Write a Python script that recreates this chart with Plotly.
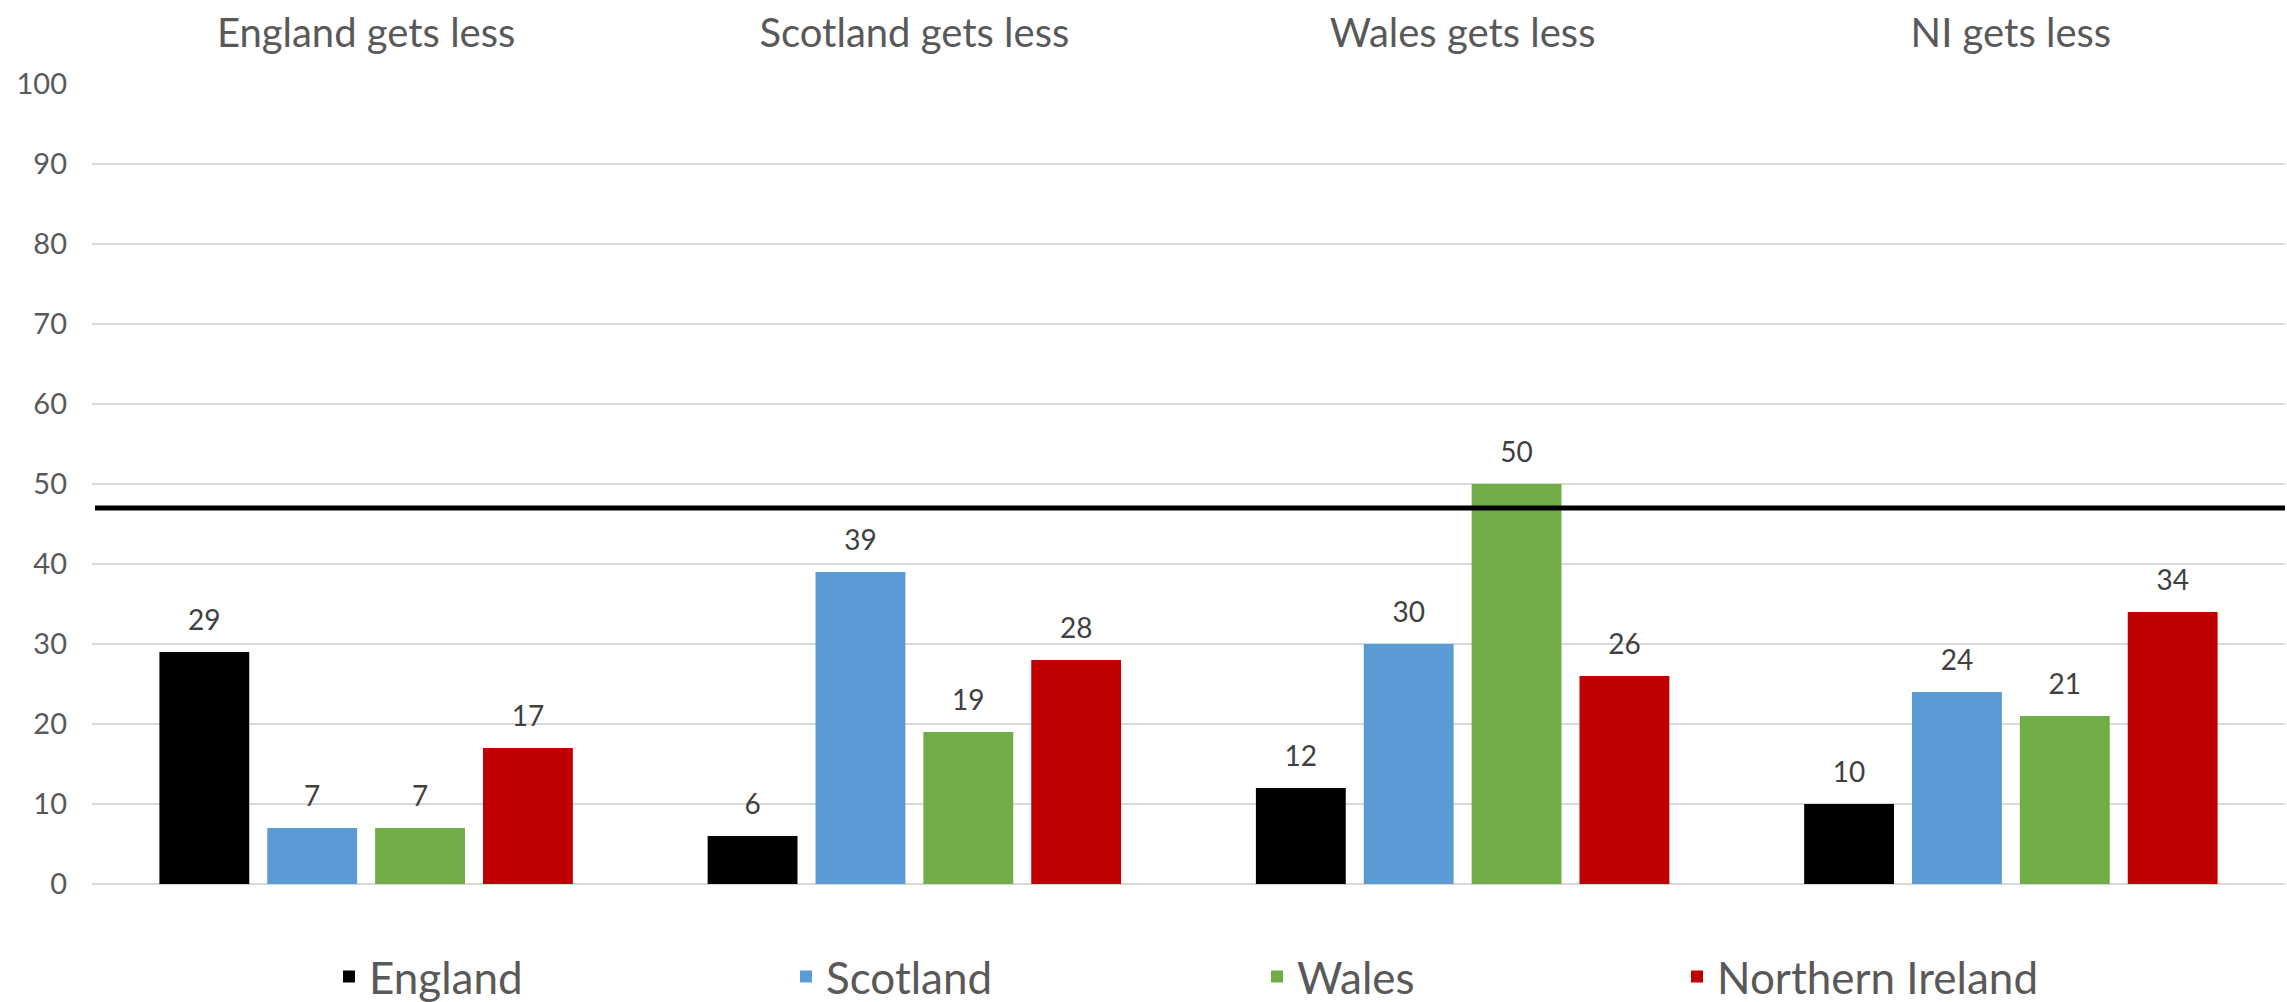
import plotly.graph_objects as go

categories = ["England gets less", "Scotland gets less", "Wales gets less", "NI gets less"]
series_names = ["England", "Scotland", "Wales", "Northern Ireland"]
england = [29, 6, 12, 10]
scotland = [7, 39, 30, 24]
wales = [7, 19, 50, 21]
northern_ireland = [17, 28, 26, 34]
reference_value = 47
y_ticks = [0, 10, 20, 30, 40, 50, 60, 70, 80, 90, 100]

colors = ["#000000", "#5B9BD5", "#70AD47", "#C00000"]
values = [england, scotland, wales, northern_ireland]

W, H = 2287, 1002
ML, MR, MT, MB = 92, 2, 84, 118
plot_w = W - ML - MR
plot_h = H - MT - MB

# legend positions (px)
legend_px = [329, 786, 1257, 1677]
legend_ids = ["legend", "legend2", "legend3", "legend4"]

FONT = "Lato"

fig = go.Figure()
for name, vals, col, lid in zip(series_names, values, colors, legend_ids):
    fig.add_trace(go.Bar(
        x=categories, y=vals, name=name,
        marker=dict(color=col, line=dict(width=0)),
        text=vals,
        texttemplate="<span style='font-size:28px'>%{y}</span><br> ",
        textposition="outside",
        textfont=dict(family=FONT, size=12, color="#404040"),
        constraintext="none",
        cliponaxis=False,
        legend=lid,
    ))

fig.add_shape(type="line", xref="paper", yref="y",
              x0=3 / plot_w, x1=1, y0=reference_value, y1=reference_value,
              line=dict(color="#000000", width=5), layer="above")

legend_layouts = {}
for lid, px in zip(legend_ids, legend_px):
    legend_layouts[lid] = dict(
        x=(px - ML) / plot_w, xanchor="left",
        y=(H - MB - 977) / plot_h,
        yanchor="middle",
        orientation="h",
        font=dict(family=FONT, size=44, color="#595959"),
        bgcolor="rgba(0,0,0,0)",
        itemclick=False,
    )

fig.update_layout(
    width=W, height=H,
    margin=dict(l=ML, r=MR, t=MT, b=MB, pad=0, autoexpand=False),
    paper_bgcolor="#FFFFFF", plot_bgcolor="#FFFFFF",
    barmode="group", bargap=0.213, bargroupgap=0.167,
    showlegend=True,
    font=dict(family=FONT, color="#595959"),
    xaxis=dict(
        side="top", showline=False, ticks="", showgrid=False,
        automargin=False,
        tickfont=dict(family=FONT, size=40, color="#595959"),
        ticklabelstandoff=28,
    ),
    yaxis=dict(
        range=[0, 100], tickvals=y_ticks, showline=False, ticks="",
        automargin=False,
        gridcolor="#D9D9D9", gridwidth=1.5,
        zeroline=True, zerolinecolor="#D9D9D9", zerolinewidth=2,
        tickfont=dict(family=FONT, size=29, color="#595959"),
        ticklabelstandoff=24,
    ),
    **legend_layouts,
)

fig.write_html(
    "out.html",
    config={"displayModeBar": False},
    post_script="document.body.style.margin='0';document.body.style.overflow='hidden';",
)
